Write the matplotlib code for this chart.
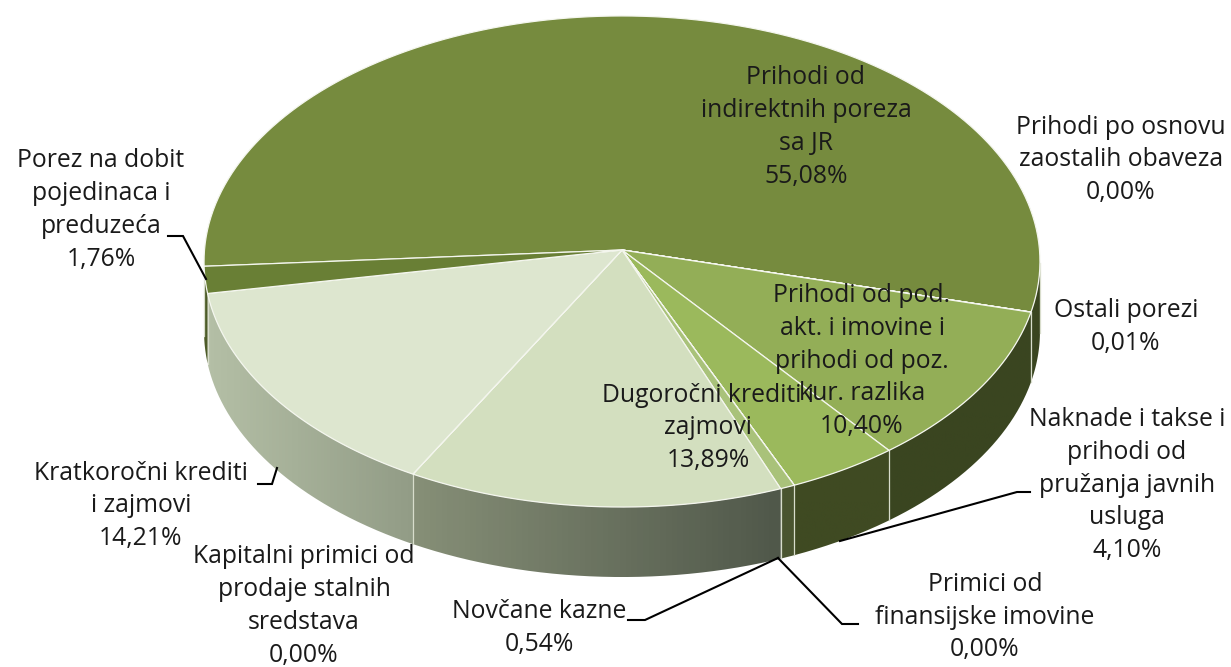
import numpy as np
import matplotlib
matplotlib.use("Agg")
import matplotlib.pyplot as plt
from matplotlib.colors import to_rgb
from matplotlib.patches import PathPatch
from matplotlib.path import Path
from matplotlib.transforms import Affine2D, Transform

# shares in percent, clockwise starting from the big slice
labels = [
    "Prihodi od\nindirektnih poreza\nsa JR\n55,08%",
    "Prihodi po osnovu\nzaostalih obaveza\n0,00%",
    "Ostali porezi\n0,01%",
    "Prihodi od pod.\nakt. i imovine i\nprihodi od poz.\nkur. razlika\n10,40%",
    "Naknade i takse i\nprihodi od\npružanja javnih\nusluga\n4,10%",
    "Primici od\nfinansijske imovine\n0,00%",
    "Novčane kazne\n0,54%",
    "Dugoročni krediti i\nzajmovi\n13,89%",
    "Kapitalni primici od\nprodaje stalnih\nsredstava\n0,00%",
    "Kratkoročni krediti\ni zajmovi\n14,21%",
    "Porez na dobit\npojedinaca i\npreduzeća\n1,76%",
]
values = [55.08, 0.00, 0.01, 10.40, 4.10, 0.00, 0.54, 13.89, 0.00, 14.21, 1.76]
top_colors = ["#768b3e", "#768b3e", "#768b3e", "#93ae57", "#9bb95c", "#9bb95c",
              "#a9c27a", "#d3dfbf", "#d3dfbf", "#dde6cf", "#697f35"]
# wall gradient, left colour and right colour of each slice
wall_colors = [("#3a4520", "#3a4520"), None, None, ("#3a4520", "#3a4520"),
               ("#3f4a22", "#3f4a22"), None, ("#4a5530", "#4a5530"),
               ("#868f77", "#50584a"), None, ("#b4bfa6", "#929c86"), ("#4d5c28", "#4d5c28")]

label_pos = [(806, 127), (1121, 160), (1126, 327), (862, 361), (1127, 485),
             (985, 617), (539, 628), (708, 428), (304, 606), (141, 506), (101, 210)]
leaders = [
    [(168, 236), (183, 236), (206, 279)],
    [(258, 484), (272, 484), (277, 468)],
    [(628, 620), (645, 620), (778, 558)],
    [(858, 624), (842, 624), (778, 558)],
    [(1030, 492), (1017, 492), (840, 541)],
]

W, H = 1231, 667
CX, CY = 622, H - 250
RX, RB, K = 417.5, 245.0, 0.0468
DEPTH = 70
START = 183.8


def tilt(xy):
    # unit circle seen from the front, so the centre sits above the middle
    xy = np.asarray(xy, dtype=float)
    w = 1 + K * xy[:, 1]
    return np.column_stack([CX + RX * xy[:, 0] / w, CY + RB * xy[:, 1] / w])


class TiltTransform(Transform):
    input_dims = 2
    output_dims = 2
    is_affine = False

    def transform_non_affine(self, values):
        return tilt(values)

    def transform_path_non_affine(self, path):
        polys = path.to_polygons(Affine2D().scale(2000), closed_only=False)
        if not polys:
            return Path(tilt(path.vertices))
        return Path(tilt(polys[0] / 2000))


plt.rcParams["font.family"] = ["Open Sans", "DejaVu Sans"]
fig = plt.figure(figsize=(W / 100, H / 100), dpi=100)
ax = fig.add_axes([0, 0, 1, 1])

wedges, _ = ax.pie(values, colors=top_colors, startangle=START, counterclock=False,
                   radius=1, wedgeprops=dict(edgecolor="#f4f6ee", linewidth=0.9))
for w in wedges:
    w.set_zorder(5)
    w.set_transform(TiltTransform() + ax.transData)

# walls of the pie
edges = START - np.cumsum([0] + values) * 3.6
mid_y = CY + RB * (-K) / (1 - K ** 2)  # height of the widest point
for i, cols in enumerate(wall_colors):
    if cols is None:
        continue
    t = np.radians(np.linspace(edges[i], edges[i + 1], 400))
    pts = tilt(np.column_stack([np.cos(t), np.sin(t)]))
    front = pts[:, 1] < mid_y
    # the big slice comes to the front on both sides, so split into runs
    cuts = np.flatnonzero(np.diff(front.astype(int))) + 1
    for run, keep in zip(np.split(pts, cuts), np.split(front, cuts)):
        if not keep[0] or len(run) < 2:
            continue
        x, y = run[:, 0], run[:, 1]
        verts = list(zip(x, y)) + list(zip(x[::-1], y[::-1] - DEPTH))
        verts.append(verts[0])
        clip = PathPatch(Path(verts), facecolor="none", edgecolor="none")
        ax.add_patch(clip)
        grad = np.linspace(to_rgb(cols[0]), to_rgb(cols[1]), 64)[None, :, :]
        im = ax.imshow(grad, extent=(x.min(), x.max(), y.min() - DEPTH, y.max()),
                       aspect="auto", zorder=2)
        im.set_clip_path(clip)
        # seam between walls
        ax.plot([x[0], x[0]], [y[0], y[0] - DEPTH], color="#d8ddcc", lw=0.9, zorder=3)

ax.set_xlim(0, W)
ax.set_ylim(0, H)
ax.set_aspect("auto")
ax.set_axis_off()

for pts in leaders:
    xs = [p[0] for p in pts]
    ys = [H - p[1] for p in pts]
    ax.plot(xs, ys, color="black", lw=1.5, zorder=6, solid_joinstyle="miter")

for text, (px, py) in zip(labels, label_pos):
    ax.text(px, H - py, text, ha="center", va="center", fontsize=17.8, color="#1a1a1a",
            linespacing=1.42, zorder=7)

fig.savefig("out.png", dpi=100)
